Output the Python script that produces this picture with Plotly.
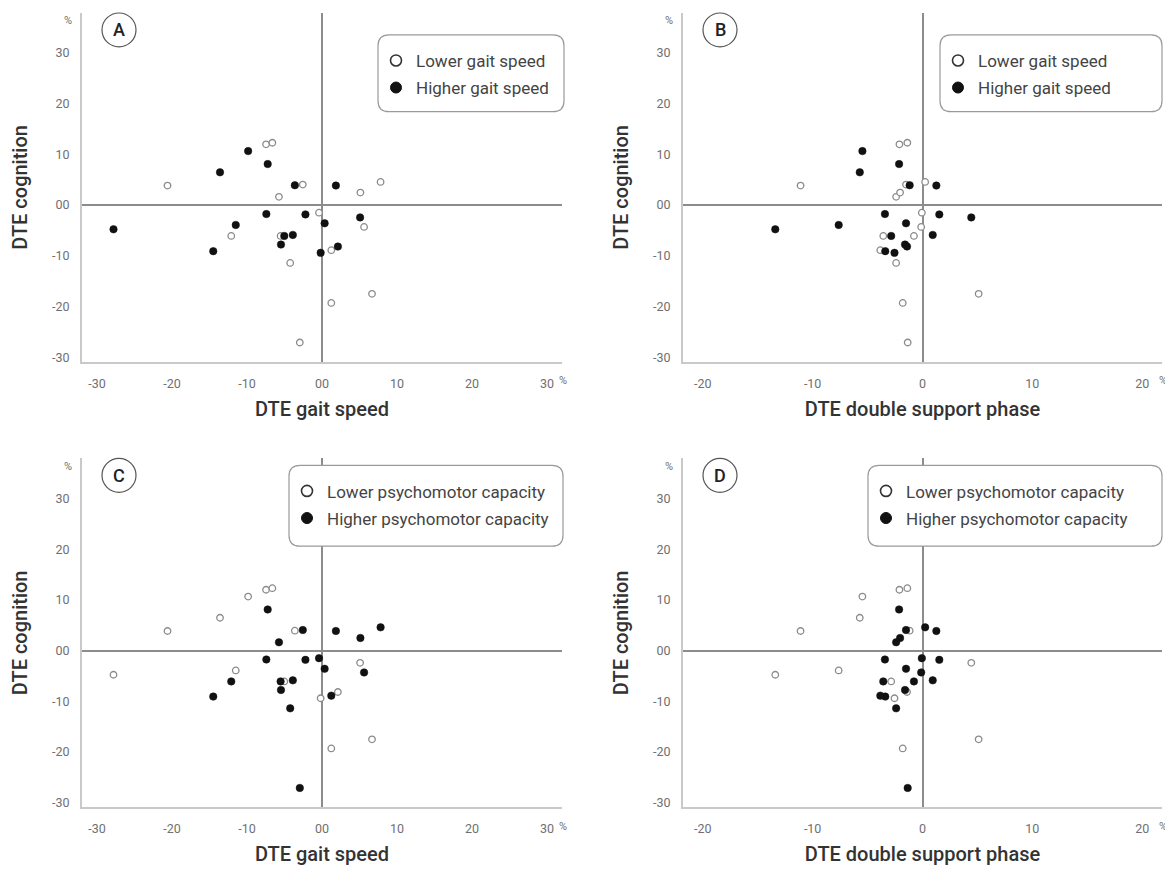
import plotly.graph_objects as go

# ---------------- data (33 participants) ----------------
dte_gait_speed = [-9.85, -7.24, -13.6, -3.62, 1.85, -7.42, -2.21, 5.08, 0.35, -11.5, -27.8,
                  -5.03, -3.89, -5.47, 2.12, -14.5, -0.18,
                  -7.46, -6.62, -20.6, -2.56, -5.74, 7.81, 5.12, -0.40, 5.61, -12.1,
                  -5.52, 1.24, -4.24, 6.67, 1.24, -2.96]
dte_dsp = [-5.47, -2.13, -5.71, -1.17, 1.26, -3.42, 1.53, 4.44, -1.50, -7.63, -13.4,
           -2.85, 0.93, -1.59, -1.41, -3.39, -2.55,
           -2.10, -1.38, -11.1, -1.50, -2.40, 0.24, -2.04, -0.06, -0.12, -3.57,
           -0.78, -3.84, -2.40, 5.11, -1.80, -1.35]
dte_cognition = [10.65, 8.10, 6.47, 3.92, 3.86, -1.76, -1.83, -2.42, -3.59, -3.92, -4.77,
                 -6.08, -5.88, -7.78, -8.17, -9.08, -9.41,
                 12.0, 12.3, 3.86, 4.05, 1.63, 4.58, 2.48, -1.50, -4.31, -6.08,
                 -6.08, -8.89, -11.4, -17.5, -19.3, -27.1]
gait_group = ["Higher"] * 17 + ["Lower"] * 16
psycho_group = ["Lower", "Higher", "Lower", "Lower", "Higher", "Higher", "Higher", "Lower",
                "Higher", "Lower", "Lower", "Lower", "Higher", "Higher", "Lower", "Higher", "Lower",
                "Lower", "Lower", "Lower", "Higher", "Higher", "Higher", "Higher", "Higher",
                "Higher", "Higher", "Higher", "Higher", "Higher", "Lower", "Lower", "Higher"]

y_ticks = [30, 20, 10, 0, -10, -20, -30]
y_tick_text = ["30", "20", "10", "00", "-10", "-20", "-30"]
gait_ticks = [-30, -20, -10, 0, 10, 20, 30]
gait_tick_text = ["-30", "-20", "-10", "00", "10", "20", "30"]
dsp_ticks = [-20, -10, 0, 10, 20]
dsp_tick_text = ["-20", "-10", "0", "10", "20"]

panel_letters = ["A", "B", "C", "D"]
legend_labels_gait = ["Lower gait speed", "Higher gait speed"]
legend_labels_psy = ["Lower psychomotor capacity", "Higher psychomotor capacity"]

# ---------------- layout helpers ----------------
OFF = 8                 # page body margin
W, H = 1160, 862
FONT = "Roboto"
def px_x(p): return (p - OFF) / W
def px_y(p): return 1 - (p - OFF) / H

OPEN_MARK = dict(size=6.5, color="white", line=dict(color="#8a8a8a", width=1.3))
FILL_MARK = dict(size=7.5, color="#111111", line=dict(color="#111111", width=0.5))
LEG_OPEN = dict(size=11, color="white", line=dict(color="#333333", width=1.6))
LEG_FILL = dict(size=11, color="#111111", line=dict(color="#111111", width=1))

fig = go.Figure()

panels = [
    dict(x0=82, x1=562, yt=13, yb=363),
    dict(x0=683, x1=1162, yt=13, yb=363),
    dict(x0=82, x1=562, yt=460, yb=810),
    dict(x0=683, x1=1162, yt=460, yb=810),
]
xvals = [dte_gait_speed, dte_dsp, dte_gait_speed, dte_dsp]
groups = [gait_group, gait_group, psycho_group, psycho_group]
leg_labels = [legend_labels_gait, legend_labels_gait, legend_labels_psy, legend_labels_psy]
xtitles = ["DTE gait speed", "DTE double support phase", "DTE gait speed", "DTE double support phase"]
legend_boxes = [(378, 564, 35, 112), (940, 1162, 35, 112), (289, 563, 467, 548), (868, 1162, 467, 548)]

for i, pn in enumerate(panels):
    ax = "" if i == 0 else str(i + 1)
    xa, ya = "x" + ax, "y" + ax
    leg = "legend" if i == 0 else "legend" + str(i + 1)
    xs, grp = xvals[i], groups[i]
    for g, mk, lmk, lab in [("Lower", OPEN_MARK, LEG_OPEN, leg_labels[i][0]),
                            ("Higher", FILL_MARK, LEG_FILL, leg_labels[i][1])]:
        gx = [x for x, gg in zip(xs, grp) if gg == g]
        gy = [y for y, gg in zip(dte_cognition, grp) if gg == g]
        fig.add_trace(go.Scatter(x=gx, y=gy, mode="markers", marker=mk, xaxis=xa, yaxis=ya,
                                 showlegend=False, hoverinfo="x+y"))
        fig.add_trace(go.Scatter(x=[None], y=[None], mode="markers", marker=lmk, xaxis=xa, yaxis=ya,
                                 name=lab, legend=leg, legendgroup=lab + str(i), showlegend=True))

    is_gait = i in (0, 2)
    xr = [-32, 32] if is_gait else [-21.8, 21.8]
    common = dict(showgrid=False, showline=True, linecolor="#c9c9c9", linewidth=2, mirror=False,
                  zeroline=True, zerolinecolor="#8c8c8c", zerolinewidth=1.6,
                  ticks="outside", tickcolor="rgba(0,0,0,0)",
                  tickfont=dict(family=FONT, size=12.5, color="#707070"))
    fig.layout["xaxis" + ax] = dict(common, domain=[px_x(pn["x0"]), px_x(pn["x1"])], range=xr,
                                    anchor=ya, ticklen=9,
                                    tickvals=gait_ticks if is_gait else dsp_ticks,
                                    ticktext=gait_tick_text if is_gait else dsp_tick_text,
                                    title=dict(text=xtitles[i], standoff=12,
                                               font=dict(family=FONT, size=20, color="#333333", weight=500)))
    fig.layout["yaxis" + ax] = dict(common, domain=[px_y(pn["yb"]), px_y(pn["yt"])], range=[-30.9, 37.9],
                                    anchor=xa, ticklen=8, tickvals=y_ticks, ticktext=y_tick_text,
                                    title=dict(text="DTE cognition", standoff=19,
                                               font=dict(family=FONT, size=20, color="#333333", weight=500)))

    # % unit annotations
    fig.add_annotation(x=px_x(pn["x0"] - 14), y=px_y(pn["yt"] + 8), xref="paper", yref="paper",
                       xanchor="center", yanchor="middle",
                       text="%", showarrow=False, font=dict(family=FONT, size=11, color="#707070"))
    fig.add_annotation(x=px_x(pn["x1"] + 1), y=px_y(pn["yb"] + 19), xref="paper", yref="paper",
                       xanchor="center", yanchor="middle",
                       text="%", showarrow=False, font=dict(family=FONT, size=11, color="#707070"))

    # panel letter in circle
    cx, cy = pn["x0"] + 37, pn["yt"] + 17
    fig.add_shape(type="circle", xref="paper", yref="paper",
                  x0=px_x(cx - 17), x1=px_x(cx + 17), y0=px_y(cy + 17), y1=px_y(cy - 17),
                  line=dict(color="#555555", width=1.2))
    fig.add_annotation(x=px_x(cx), y=px_y(cy), xref="paper", yref="paper", text=panel_letters[i],
                       xanchor="center", yanchor="middle",
                       showarrow=False, font=dict(family=FONT, size=18, color="#222222", weight=500))

    # rounded legend box
    bx0, bx1, by0, by1 = legend_boxes[i]
    r = 11
    def P(x, y): return f"{px_x(x):.5f},{px_y(y):.5f}"
    path = (f"M {P(bx0 + r, by0)} L {P(bx1 - r, by0)} Q {P(bx1, by0)} {P(bx1, by0 + r)} "
            f"L {P(bx1, by1 - r)} Q {P(bx1, by1)} {P(bx1 - r, by1)} L {P(bx0 + r, by1)} "
            f"Q {P(bx0, by1)} {P(bx0, by1 - r)} L {P(bx0, by0 + r)} Q {P(bx0, by0)} {P(bx0 + r, by0)} Z")
    fig.add_shape(type="path", path=path, xref="paper", yref="paper",
                  line=dict(color="#9a9a9a", width=1.2), fillcolor="white", layer="above")

    fig.layout[leg] = dict(x=px_x(bx0 - 2), y=px_y(by0 + 8), xanchor="left", yanchor="top",
                           bgcolor="rgba(0,0,0,0)", borderwidth=0,
                           font=dict(family=FONT, size=17, color="#444444"),
                           traceorder="grouped", tracegroupgap=2)

fig.update_layout(width=W, height=H, margin=dict(l=0, r=0, t=0, b=0),
                  plot_bgcolor="white", paper_bgcolor="white",
                  font=dict(family=FONT), hovermode="closest")

fig.write_html("out.html")
